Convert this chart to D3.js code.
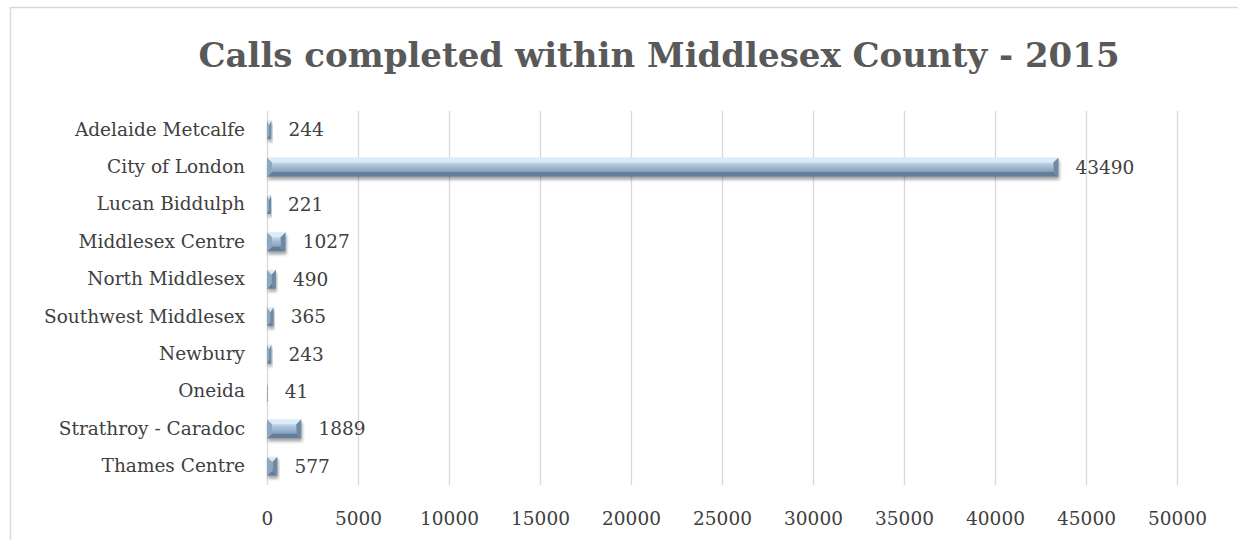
<!DOCTYPE html>
<html>
<head>
<meta charset="utf-8">
<script src="https://cdn.jsdelivr.net/npm/d3@7"></script>
<style>
  html, body { margin: 0; padding: 0; background: #ffffff; }
  svg { display: block; }
</style>
</head>
<body>
<svg id="chart" width="1238" height="540"></svg>
<script>
// Calls completed per municipality, Middlesex County 2015
const categories = [
  "Adelaide Metcalfe", "City of London", "Lucan Biddulph", "Middlesex Centre",
  "North Middlesex", "Southwest Middlesex", "Newbury", "Oneida",
  "Strathroy - Caradoc", "Thames Centre"
];
const calls = [244, 43490, 221, 1027, 490, 365, 243, 41, 1889, 577];
const xTicks = [0, 5000, 10000, 15000, 20000, 25000, 30000, 35000, 40000, 45000, 50000];
const chartTitle = "Calls completed within Middlesex County - 2015";

const W = 1238, H = 540;
const margin = { left: 267, right: W - 1177, top: 111, bottom: H - 485 };
const labelFont = "'DejaVu Serif', serif";
const labelSize = 18.5;

const svg = d3.select("#chart");

// defs: bar face gradient and drop shadow
const defs = svg.append("defs");
const grad = defs.append("linearGradient").attr("id", "faceGrad")
  .attr("x1", 0).attr("y1", 0).attr("x2", 0).attr("y2", 1);
grad.append("stop").attr("offset", "0%").attr("stop-color", "#bed5ea");
grad.append("stop").attr("offset", "100%").attr("stop-color", "#84a1bd");

const shadow = defs.append("filter").attr("id", "barShadow")
  .attr("x", "-20%").attr("y", "-40%").attr("width", "140%").attr("height", "200%");
shadow.append("feDropShadow").attr("dx", 1).attr("dy", 3)
  .attr("stdDeviation", 1.8).attr("flood-color", "#000").attr("flood-opacity", 0.35);

// outer frame (top and left edges)
svg.append("path")
  .attr("d", `M10.5,${H} L10.5,7.5 L${W},7.5`)
  .attr("fill", "none").attr("stroke", "#d9d9d9").attr("stroke-width", 1.5);

// title
svg.append("text")
  .attr("x", 659).attr("y", 67)
  .attr("text-anchor", "middle")
  .attr("font-family", "'DejaVu Serif', serif")
  .attr("font-weight", "bold").attr("font-size", 34)
  .attr("fill", "#595959")
  .text(chartTitle);

const x = d3.scaleLinear().domain([0, 50000]).range([margin.left, W - margin.right]);
const y = d3.scaleBand().domain(categories).range([margin.top, H - margin.bottom]).paddingInner(0.49).paddingOuter(0.245);

// vertical gridlines
svg.append("g").selectAll("line").data(xTicks).join("line")
  .attr("x1", d => x(d) + 0.5).attr("x2", d => x(d) + 0.5)
  .attr("y1", margin.top).attr("y2", H - margin.bottom)
  .attr("stroke", "#d9d9d9").attr("stroke-width", 1.3);

// x axis tick labels
const xAxis = d3.axisBottom(x).tickValues(xTicks).tickSize(0).tickPadding(0).tickFormat(d3.format("d"));
const gx = svg.append("g").attr("transform", `translate(0,${H - margin.bottom + 27})`).call(xAxis);
gx.select(".domain").remove();
gx.selectAll("text")
  .attr("font-family", labelFont).attr("font-size", labelSize).attr("fill", "#404040");

// category labels
const yAxis = d3.axisLeft(y).tickSize(0).tickPadding(22);
const gy = svg.append("g").attr("transform", `translate(${margin.left},0)`).call(yAxis);
gy.select(".domain").remove();
gy.selectAll("text")
  .attr("font-family", labelFont).attr("font-size", labelSize).attr("fill", "#404040");

// bevelled bars
const bevel = 5;
const rows = categories.map((c, i) => ({ name: c, value: calls[i] }));
const bars = svg.append("g").selectAll("g.bar").data(rows).join("g")
  .attr("class", "bar").attr("filter", "url(#barShadow)");

bars.each(function(d) {
  const g = d3.select(this);
  const x0 = x(0), x1 = x(d.value);
  const y0 = y(d.name), y1 = y0 + y.bandwidth();
  const w = x1 - x0;
  if (w <= 0) return;
  const bx = Math.min(bevel, w / 2), by = Math.min(bevel, (y1 - y0) / 2);
  const pts = a => a.map(p => p.join(",")).join(" ");
  // face
  g.append("rect").attr("x", x0 + bx).attr("y", y0 + by)
    .attr("width", Math.max(0, w - 2 * bx)).attr("height", y1 - y0 - 2 * by)
    .attr("fill", "url(#faceGrad)");
  // top facet
  g.append("polygon").attr("points", pts([[x0, y0], [x1, y0], [x1 - bx, y0 + by], [x0 + bx, y0 + by]]))
    .attr("fill", "#dbeaf7");
  // bottom facet
  g.append("polygon").attr("points", pts([[x0, y1], [x1, y1], [x1 - bx, y1 - by], [x0 + bx, y1 - by]]))
    .attr("fill", "#627e9a");
  // left facet
  g.append("polygon").attr("points", pts([[x0, y0], [x0 + bx, y0 + by], [x0 + bx, y1 - by], [x0, y1]]))
    .attr("fill", "#8ca8c3");
  // right facet
  g.append("polygon").attr("points", pts([[x1, y0], [x1 - bx, y0 + by], [x1 - bx, y1 - by], [x1, y1]]))
    .attr("fill", "#6d89a5");
});

// value labels
svg.append("g").selectAll("text").data(rows).join("text")
  .attr("x", d => x(d.value) + 17)
  .attr("y", d => y(d.name) + y.bandwidth() / 2)
  .attr("dy", "0.35em")
  .attr("font-family", labelFont).attr("font-size", labelSize).attr("fill", "#404040")
  .text(d => d.value);
</script>
</body>
</html>
